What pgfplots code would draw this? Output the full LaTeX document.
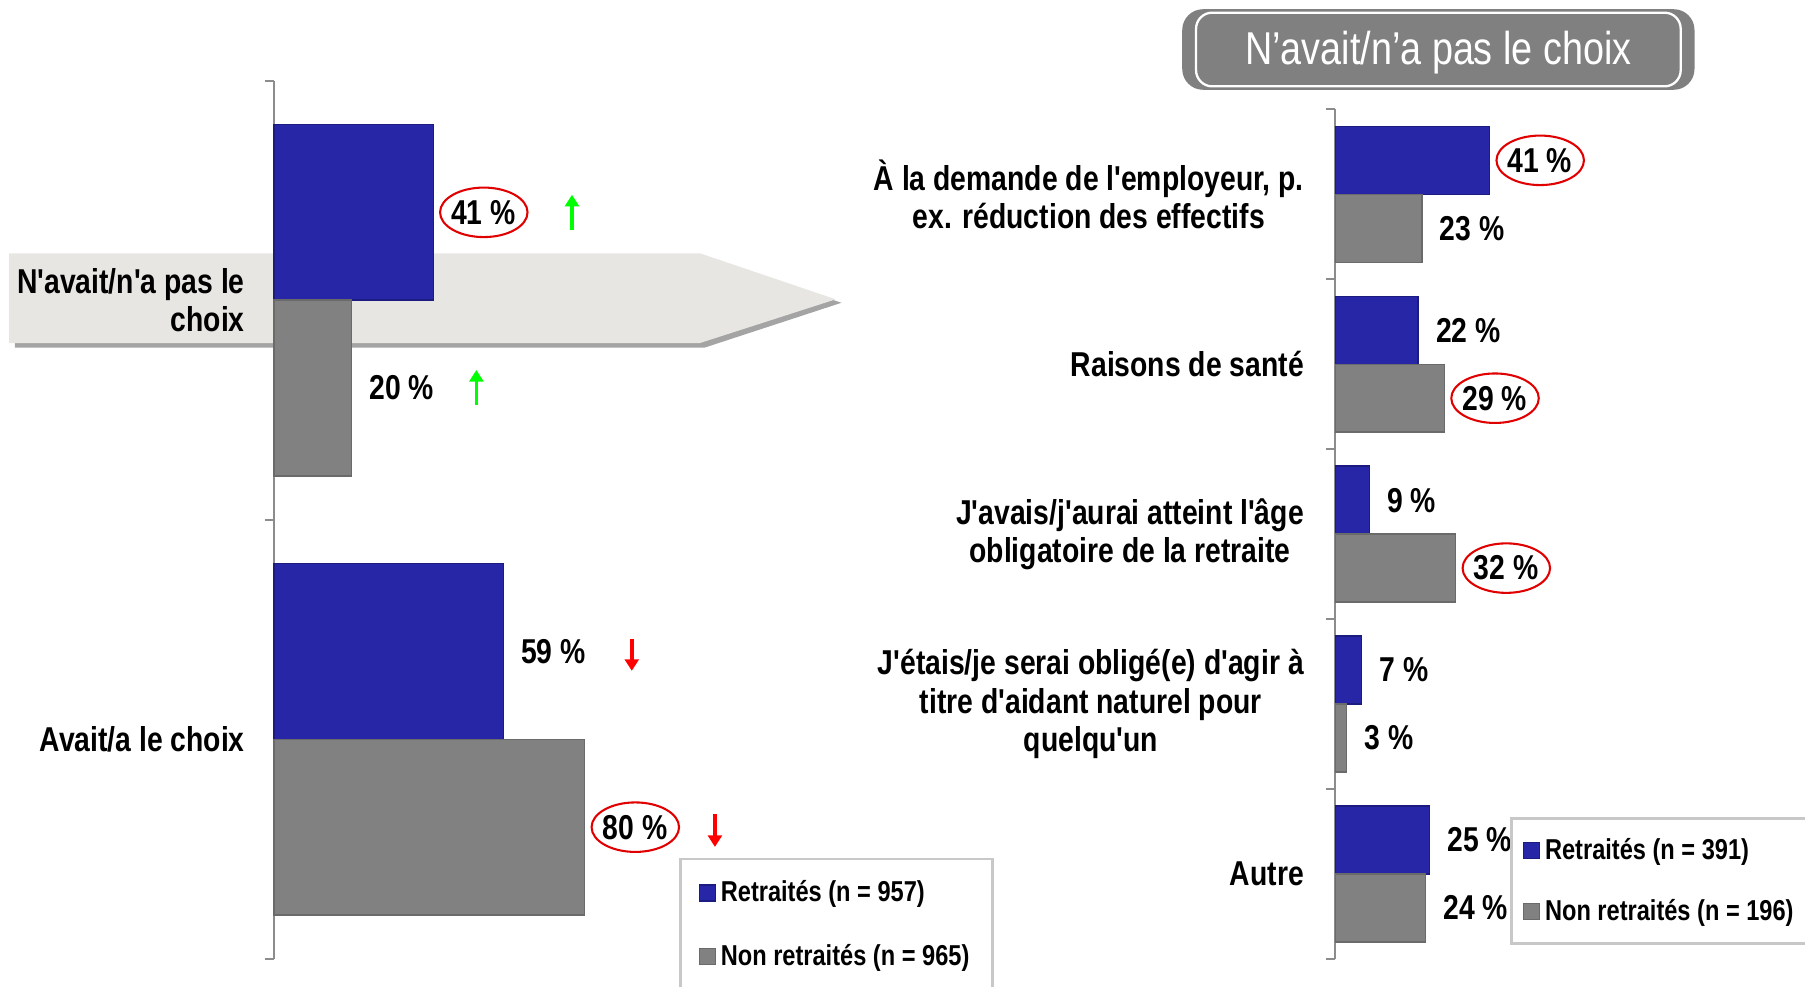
\documentclass[border=0pt]{standalone}
\usepackage{fontspec}
\usepackage{pgfplots}
\pgfplotsset{compat=1.18}
\usetikzlibrary{shapes.geometric, arrows.meta}
\newfontfamily\nf{Liberation Sans}[FakeStretch=0.82]
\newcommand\labfont{\nf\bfseries\fontsize{15}{16.75}\selectfont}
\newcommand\legfont{\nf\bfseries\fontsize{12.5}{14}\selectfont}
\definecolor{bluemid}{HTML}{2626A6}
\definecolor{bluebot}{HTML}{1C1C80}
\definecolor{greymid}{HTML}{818181}
\definecolor{greybot}{HTML}{6A6A6A}
\definecolor{axisgray}{HTML}{8C8C8C}
\definecolor{legendgray}{HTML}{C8C8C8}
\definecolor{bannerlight}{HTML}{E8E6E3}
\definecolor{bannershadow}{HTML}{A4A4A4}
\definecolor{titlegray}{HTML}{808080}
\definecolor{circred}{HTML}{E00000}
\definecolor{arrgreen}{HTML}{00FF00}
\pgfplotsset{
  barchart/.style={
    enlargelimits=false, clip=false,
    axis x line=none, axis y line=left,
    axis line style={-, draw=axisgray, line width=0.8pt},
    xtick=\empty,
    major tick length=0pt, minor tick length=4pt,
    tick align=outside,
    minor tick style={draw=axisgray, line width=0.8pt},
    xbar, bar width=0.4, bar shift=0pt,
    point meta=x,
    nodes near coords={\pgfmathprintnumber{\pgfplotspointmeta}~\%},
    every node near coord/.append style={font=\labfont, text=black, anchor=west, inner sep=0pt, xshift=7.5pt},
    /pgf/number format/assume math mode=true,
    legend cell align=left,
  },
  bluebars/.style={fill=bluemid, draw=bluebot, line width=0.6pt,
    legend image code/.code={\fill[bluemid, draw=bluebot] (0pt,-3.5pt) rectangle (7pt,3.5pt);}},
  greybars/.style={fill=greymid, draw=greybot, line width=0.6pt,
    legend image code/.code={\fill[greymid, draw=greybot] (0pt,-3.5pt) rectangle (7pt,3.5pt);}},
  circled/.style={draw=none, fill=none, forget plot, nodes near coords={},
    every node near coord/.style={draw=circred, ellipse, line width=0.9pt, minimum width=38pt, minimum height=21.5pt, anchor=west, inner sep=0pt, xshift=2.5pt}},
}
\begin{document}
\begin{tikzpicture}
\useasboundingbox (0,0) rectangle (784pt,-428.5pt);
% banner behind left chart
\fill[bannershadow] (6.5pt,-112pt) -- (306pt,-112pt) -- (365.5pt,-131.5pt) -- (306pt,-151pt) -- (6.5pt,-151pt) -- cycle;
\fill[bannerlight] (4pt,-110pt) -- (304pt,-110pt) -- (363pt,-130pt) -- (304pt,-149pt) -- (4pt,-149pt) -- cycle;
% title box of right chart
\fill[titlegray, rounded corners=9pt] (513.5pt,-4pt) rectangle (736pt,-39pt);
\draw[white, line width=1pt, rounded corners=7pt] (519.5pt,-5.5pt) rectangle (730pt,-37.5pt);
\node[text=white, font=\nf\fontsize{20}{24}\selectfont] at (624.75pt,-23pt) {N’avait/n’a pas le choix};

% left chart
\begin{axis}[barchart,
  at={(119pt,-416.5pt)}, anchor=south west,
  x=1.6875pt, y=190.75pt,
  xmin=0, xmax=100, ymin=-0.5, ymax=1.5,
  ytick={0,1},
  yticklabels={{Avait/a le choix},{N'avait/n'a pas le\\choix}},
  minor ytick={-0.5,0.5,1.5},
  yticklabel style={font=\labfont, align=right, inner sep=0pt, xshift=-12.5pt},
  legend style={at={(1.043,0.1153)}, anchor=north west, draw=legendgray, line width=1pt, fill=white, font=\legfont, inner xsep=8pt, inner ysep=7.5pt, row sep=13pt},
]
\addplot[bluebars] coordinates {(41,1.2) (59,0.2)};
\addlegendentry{Retraités (n = 957)}
\addplot[greybars] coordinates {(20,0.8) (80,-0.2)};
\addlegendentry{Non retraités (n = 965)}
\addplot[circled] coordinates {(41,1.2) (80,-0.2)};
\draw[arrgreen, line width=1.5pt, -{Triangle[length=5pt,width=6pt]}] (axis cs:76.7,1.159) -- (axis cs:76.7,1.240);
\draw[arrgreen, line width=1.5pt, -{Triangle[length=5pt,width=6pt]}] (axis cs:52.1,0.761) -- (axis cs:52.1,0.841);
\draw[red, line width=1.5pt, -{Triangle[length=5pt,width=6pt]}] (axis cs:92.1,0.229) -- (axis cs:92.1,0.156);
\draw[red, line width=1.5pt, -{Triangle[length=5pt,width=6pt]}] (axis cs:113.5,-0.170) -- (axis cs:113.5,-0.245);
\end{axis}

% right chart
\begin{axis}[barchart,
  at={(580pt,-416.5pt)}, anchor=south west,
  x=1.635pt, y=73.8pt,
  xmin=0, xmax=60, ymin=-0.5, ymax=4.5,
  ytick={0,1,2,3,4},
  yticklabels={{Autre},{J'étais/je serai obligé(e) d'agir à\\titre d'aidant naturel pour\\quelqu'un},{J'avais/j'aurai atteint l'âge\\obligatoire de la retraite},{Raisons de santé},{À la demande de l'employeur, p.\\ex. réduction des effectifs}},
  minor ytick={-0.5,0.5,1.5,2.5,3.5,4.5},
  yticklabel style={font=\labfont, align=center, inner sep=0pt, xshift=-13.5pt},
  legend style={at={(0.7747,0.1667)}, anchor=north west, draw=legendgray, line width=1pt, fill=white, font=\legfont, inner xsep=5pt, inner ysep=6.5pt, row sep=12pt},
]
\addplot[bluebars] coordinates {(41,4.2) (22,3.2) (9,2.2) (7,1.2) (25,0.2)};
\addlegendentry{Retraités (n = 391)}
\addplot[greybars] coordinates {(23,3.8) (29,2.8) (32,1.8) (3,0.8) (24,-0.2)};
\addlegendentry{Non retraités (n = 196)}
\addplot[circled] coordinates {(41,4.2) (29,2.8) (32,1.8)};
\end{axis}
\end{tikzpicture}
\end{document}
